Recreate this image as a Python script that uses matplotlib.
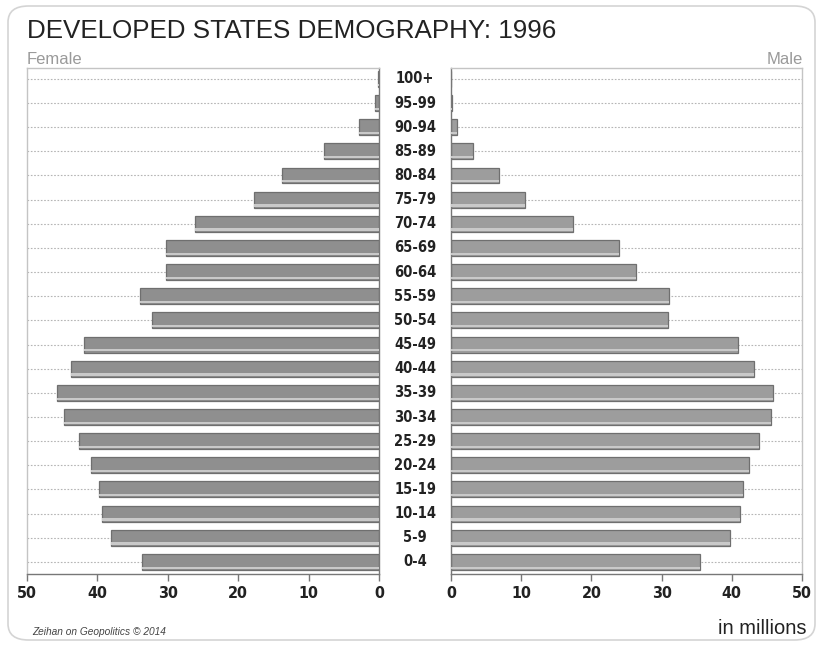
#!/usr/bin/env python3
"""Population pyramid for the developed states, 1996."""

import matplotlib
matplotlib.use('Agg')
import matplotlib.pyplot as plt
from matplotlib.patches import FancyBboxPatch

age_groups = ['0-4', '5-9', '10-14', '15-19', '20-24', '25-29', '30-34',
              '35-39', '40-44', '45-49', '50-54', '55-59', '60-64', '65-69',
              '70-74', '75-79', '80-84', '85-89', '90-94', '95-99', '100+']

# millions of people per age group
female = [33.6, 38.0, 39.4, 39.8, 40.9, 42.6, 44.8, 45.7, 43.7, 41.9, 32.2,
          34.0, 30.2, 30.3, 26.2, 17.8, 13.8, 7.8, 2.9, 0.6, 0.1]
male = [35.5, 39.8, 41.2, 41.6, 42.5, 43.9, 45.6, 45.8, 43.1, 40.9, 30.9,
        31.0, 26.4, 23.9, 17.4, 10.6, 6.9, 3.2, 0.9, 0.2, 0.05]

x_ticks = [0, 10, 20, 30, 40, 50]

W, H = 823, 646
SANS = ['Liberation Sans', 'DejaVu Sans']
LABEL_FONT = dict(family='DejaVu Sans', stretch='condensed', fontweight='bold')

fig = plt.figure(figsize=(W / 100, H / 100), dpi=100)
fig.patch.set_facecolor('white')

# rounded card border
card = FancyBboxPatch((8 / W, 6 / H), 807 / W, 634 / H,
                      boxstyle='round,pad=0,rounding_size=0.025',
                      transform=fig.transFigure, facecolor='none',
                      edgecolor='#d4d4d4', linewidth=1.2)
fig.patches.append(card)

bottom = (H - 574) / H
height = (574 - 68) / H
ax_f = fig.add_axes([27 / W, bottom, (379 - 27) / W, height])
ax_m = fig.add_axes([451 / W, bottom, (802 - 451) / W, height])

ypos = list(range(len(age_groups)))


def style_panel(ax, values, face):
    ax.set_xlim(0, 50)
    ax.set_ylim(-0.5, len(age_groups) - 0.55)
    for y in ypos:
        ax.axhline(y, color='#b5b5b5', linestyle=(0, (1.5, 1.5)),
                   linewidth=0.8, zorder=1)
    ax.barh(ypos, values, height=0.66, color=face, edgecolor='#6f6f6f',
            linewidth=0.9, zorder=2)
    # pale strip along the lower edge of each bar
    ax.barh([y - 0.24 for y in ypos], values, height=0.09, color='#c9c9c9',
            linewidth=0, zorder=3)
    ax.set_yticks([])
    ax.set_xticks(x_ticks)
    ax.set_xticklabels([str(t) for t in x_ticks], fontsize=11.5,
                       color='#222222', **LABEL_FONT)
    ax.tick_params(axis='x', direction='out', length=5, width=1,
                   color='#777777', pad=4)
    for side in ['top', 'left', 'right']:
        ax.spines[side].set_color('#c4c4c4')
        ax.spines[side].set_linewidth(1)
    ax.spines['bottom'].set_color('#777777')
    ax.spines['bottom'].set_linewidth(1)


style_panel(ax_f, female, '#8f8f8f')
ax_f.invert_xaxis()
ax_f.spines['right'].set_color('#777777')

style_panel(ax_m, male, '#9d9d9d')
ax_m.spines['left'].set_color('#777777')

# age group labels between the two panels
for y, label in zip(ypos, age_groups):
    ax_f.annotate(label, xy=(1.0, y), xycoords=('axes fraction', 'data'),
                  xytext=(26, 0), textcoords='offset points',
                  ha='center', va='center', fontsize=10.5, color='#222222',
                  **LABEL_FONT)

fig.text(27 / W, 1 - 31 / H, 'DEVELOPED STATES DEMOGRAPHY: 1996',
         family=SANS, fontsize=18.7, color='#222222', ha='left', va='center')
fig.text(27 / W, 1 - 60 / H, 'Female', family=SANS, fontsize=12,
         color='#9a9a9a', ha='left', va='center')
fig.text(803 / W, 1 - 60 / H, 'Male', family=SANS, fontsize=12,
         color='#9a9a9a', ha='right', va='center')
fig.text(32 / W, 1 - 632 / H, 'Zeihan on Geopolitics \u00a9 2014',
         family=SANS, fontsize=7.3, style='italic', color='#444444',
         ha='left', va='center')
fig.text(806 / W, 1 - 629 / H, 'in millions', family=SANS, fontsize=14.5,
         color='#222222', ha='right', va='center')

fig.savefig('out.png', dpi=100)
print('Saved out.png')
